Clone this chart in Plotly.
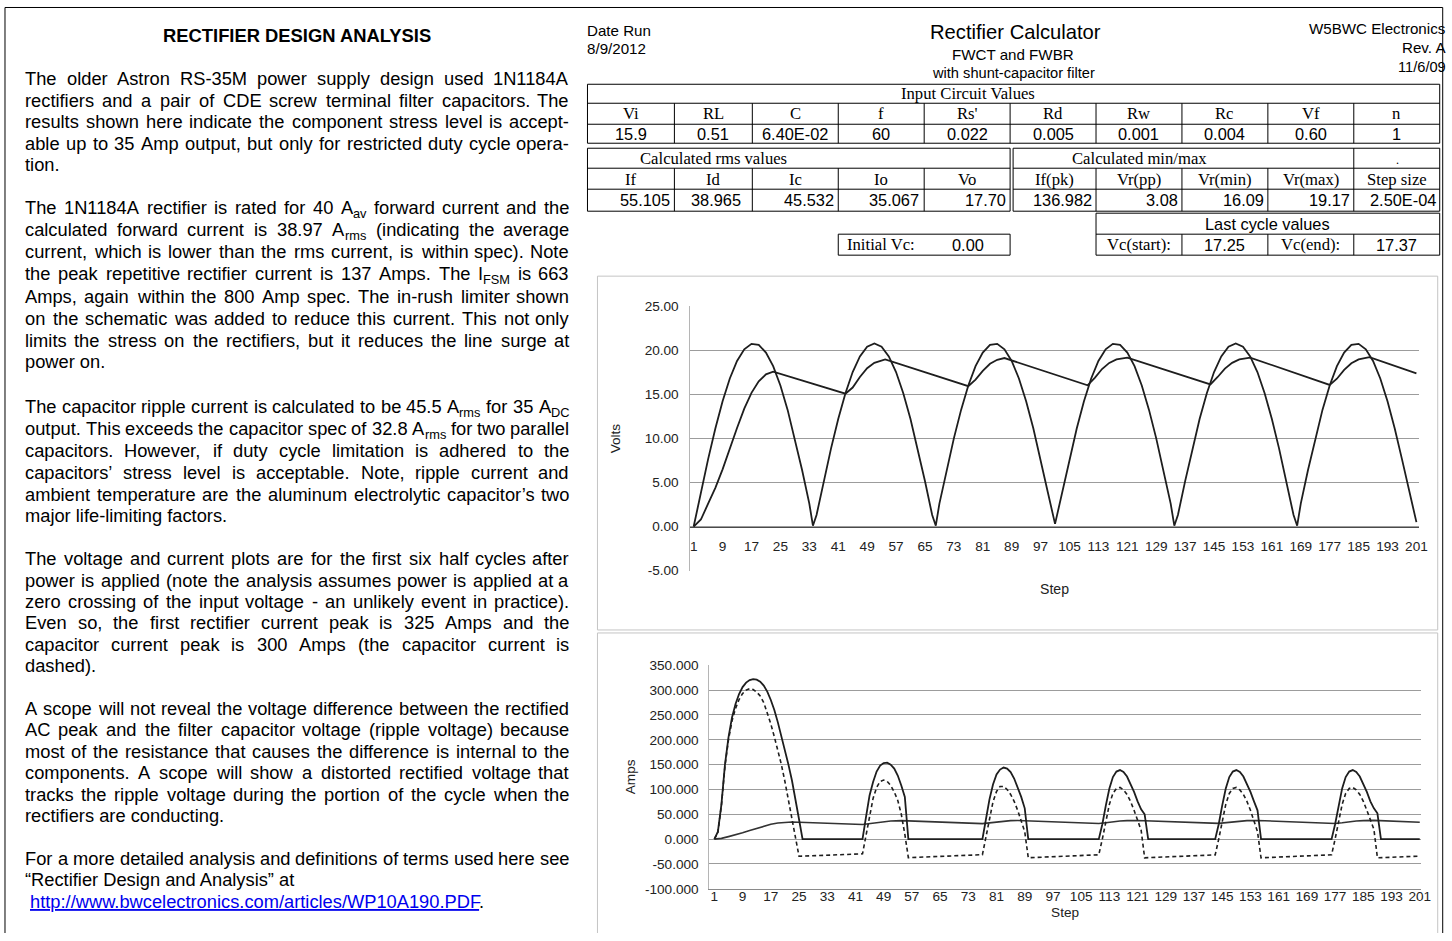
import re
import plotly.graph_objects as go

W, H = 1452, 941
SANS = "Liberation Sans, Arial, sans-serif"
SERIF = "Liberation Serif, Times New Roman, serif"
INK = "#1e1e1e"

# ---------------- chart data ----------------
step_ticks = [1, 9, 17, 25, 33, 41, 49, 57, 65, 73, 81, 89, 97, 105, 113, 121,
              129, 137, 145, 153, 161, 169, 177, 185, 193, 201]

# rectified input voltage (V)
vin_steps = [1, 3, 5, 7, 9, 11, 13, 15, 17, 19, 21, 23, 25, 27, 29, 31, 33, 34,
             35, 37, 39, 41, 43, 45, 47, 49, 51, 53, 55, 57, 59, 61, 63, 65, 67, 68,
             69, 71, 73, 75, 77, 79, 81, 83, 85, 87, 89, 91, 93, 95, 97, 99, 101,
             103, 105, 107, 109, 111, 113, 115, 117, 119, 121, 123, 125, 127, 129, 131, 133, 134,
             135, 137, 139, 141, 143, 145, 147, 149, 151, 153, 155, 157, 159, 161, 163, 165, 167, 168,
             169, 171, 173, 175, 177, 179, 181, 183, 185, 187, 189, 191, 193, 195, 197, 199, 201]
vin_volts = [0.0, 3.90, 7.66, 11.14, 14.24, 16.83, 18.82, 20.15, 20.76, 20.64, 19.78, 18.23, 16.03, 13.26, 10.02, 6.43, 2.61, 0.1,
             1.31, 5.17, 8.86, 12.23, 15.16, 17.56, 19.34, 20.43, 20.80, 20.43, 19.34, 17.56, 15.16, 12.23, 8.86, 5.17, 1.31, 0.1,
             2.61, 6.43, 10.02, 13.26, 16.03, 18.23, 19.78, 20.64, 20.76, 20.15, 18.82, 16.83, 14.24, 11.14, 7.66, 3.90, 0.3,
             3.90, 7.66, 11.14, 14.24, 16.83, 18.82, 20.15, 20.76, 20.64, 19.78, 18.23, 16.03, 13.26, 10.02, 6.43, 2.61, 0.1,
             1.31, 5.17, 8.86, 12.23, 15.16, 17.56, 19.34, 20.43, 20.80, 20.43, 19.34, 17.56, 15.16, 12.23, 8.86, 5.17, 1.31, 0.1,
             2.61, 6.43, 10.02, 13.26, 16.03, 18.23, 19.78, 20.64, 20.76, 20.15, 18.82, 16.83, 14.24, 11.14, 7.66, 3.90, 0.5]

# filter capacitor voltage (V) and load current (A)
vcap_steps = [1, 3, 5, 7, 9, 11, 13, 15, 17, 19, 21, 23,
              43, 45, 47, 49, 51, 54,
              77, 79, 81, 83, 85, 87,
              110, 112, 114, 116, 118, 121,
              144, 146, 148, 150, 152, 155,
              177, 179, 181, 183, 185, 188,
              201]
vcap_volts = [0.0, 0.8, 2.6, 4.4, 6.5, 8.9, 11.2, 13.4, 15.2, 16.5, 17.3, 17.6,
              15.1, 15.8, 17.0, 18.0, 18.6, 19.0,
              15.95, 16.7, 17.7, 18.5, 18.95, 19.15,
              16.05, 16.9, 17.9, 18.6, 19.0, 19.2,
              16.15, 17.0, 17.95, 18.6, 19.0, 19.2,
              16.1, 16.8, 17.8, 18.55, 19.0, 19.25,
              17.4]
iload_amps = [0.0, 1.6, 5.1, 8.6, 12.7, 17.5, 22.0, 26.3, 29.8, 32.4, 33.9, 34.5,
              29.6, 31.0, 33.3, 35.3, 36.5, 37.3,
              31.3, 32.7, 34.7, 36.3, 37.2, 37.5,
              31.5, 33.1, 35.1, 36.5, 37.3, 37.6,
              31.7, 33.3, 35.2, 36.5, 37.3, 37.6,
              31.6, 32.9, 34.9, 36.4, 37.3, 37.7,
              34.1]

# rectifier current (A)
irect_steps = [1, 2, 3, 4, 5, 6, 7, 8, 9, 10, 11, 12, 13, 14, 15, 16, 17, 18, 19, 20, 21, 22, 23, 24, 25, 26,
               43, 44, 45, 46, 47, 48, 49, 50, 51, 52, 53, 54, 55, 56,
               77, 78, 79, 80, 81, 82, 83, 84, 85, 86, 87, 88, 89, 90,
               110, 111, 112, 113, 114, 115, 116, 117, 118, 119, 120, 121, 122, 123, 124,
               143, 144, 145, 146, 147, 148, 149, 150, 151, 152, 153, 154, 155, 156,
               176, 177, 178, 179, 180, 181, 182, 183, 184, 185, 186, 187, 188, 189, 190,
               201]
irect_amps = [0, 15, 70, 150, 205, 245, 272, 292, 306, 315, 320, 322, 321, 317, 309, 297, 280, 260, 235, 208, 180, 150, 118, 82, 40, 0,
              0, 45, 88, 115, 136, 148, 153, 154, 150, 142, 128, 108, 85, 0,
              0, 40, 80, 110, 130, 140, 144, 142, 135, 122, 105, 85, 62, 0,
              0, 30, 68, 102, 125, 136, 139, 135, 126, 112, 95, 76, 60, 50, 0,
              0, 30, 68, 102, 125, 136, 139, 135, 126, 112, 95, 76, 58, 0,
              0, 30, 68, 102, 125, 136, 139, 135, 126, 112, 95, 76, 62, 52, 0,
              0]

# capacitor current (A), dashed
icap_steps = [1, 2, 3, 4, 5, 6, 7, 8, 9, 10, 11, 12, 13, 14, 15, 16, 17, 18, 19, 20, 21, 22, 23, 24, 25,
              43, 44, 45, 46, 47, 48, 49, 50, 51, 52, 53, 54, 55, 56,
              77, 78, 79, 80, 81, 82, 83, 84, 85, 86, 87, 88, 89, 90,
              110, 111, 112, 113, 114, 115, 116, 117, 118, 119, 120, 121, 122, 123,
              143, 144, 145, 146, 147, 148, 149, 150, 151, 152, 153, 154, 155, 156,
              176, 177, 178, 179, 180, 181, 182, 183, 184, 185, 186, 187, 188, 189,
              201]
icap_amps = [0, 14, 68, 147, 200, 238, 263, 281, 293, 300, 303, 301, 296, 288, 275, 255, 232, 206, 180, 150, 116, 80, 42, 8, -34.5,
             -29.6, 10, 50, 82, 104, 116, 119, 116, 108, 95, 78, 50, 10, -37.3,
             -31.3, 5, 45, 75, 96, 106, 106, 100, 90, 76, 58, 38, 15, -37.5,
             -31.5, 0, 38, 70, 92, 102, 104, 99, 90, 76, 58, 38, 18, -37.6,
             -31.7, 0, 38, 70, 92, 102, 104, 99, 90, 76, 58, 38, 15, -37.6,
             -31.6, 0, 38, 70, 92, 102, 104, 99, 90, 76, 58, 38, 20, -37.7,
             -34.1]

# ---------------- table data ----------------
input_headers = ["Vi", "RL", "C", "f", "Rs'", "Rd", "Rw", "Rc", "Vf", "n"]
input_values = ["15.9", "0.51", "6.40E-02", "60", "0.022", "0.005", "0.001", "0.004", "0.60", "1"]
rms_headers = ["If", "Id", "Ic", "Io", "Vo"]
rms_values = ["55.105", "38.965", "45.532", "35.067", "17.70"]
mm_headers = ["If(pk)", "Vr(pp)", "Vr(min)", "Vr(max)", "Step size"]
mm_values = ["136.982", "3.08", "16.09", "19.17", "2.50E-04"]
initial_vc = "0.00"
last_cycle = ["Vc(start):", "17.25", "Vc(end):", "17.37"]

volt_ticks = [-5, 0, 5, 10, 15, 20, 25]
volt_ticktext = ["-5.00", "0.00", "5.00", "10.00", "15.00", "20.00", "25.00"]
amp_ticks = [-100, -50, 0, 50, 100, 150, 200, 250, 300, 350]
amp_ticktext = ["-100.000", "-50.000", "0.000", "50.000", "100.000", "150.000",
                "200.000", "250.000", "300.000", "350.000"]

# ---------------- body text ----------------
paragraphs = [
    ["The older Astron RS-35M power supply design used 1N1184A",
     "rectifiers and a pair of CDE screw terminal filter capacitors. The",
     "results shown here indicate the component stress level is accept-",
     "able up to 35 Amp output, but only for restricted duty cycle opera-",
     "tion."],
    ["The 1N1184A rectifier is rated for 40 A<sub>av</sub> forward current and the",
     "calculated forward current is 38.97 A<sub>rms</sub> (indicating the average",
     "current, which is lower than the rms current, is within spec). Note",
     "the peak repetitive rectifier current is 137 Amps. The I<sub>FSM</sub> is 663",
     "Amps, again within the 800 Amp spec. The in-rush limiter shown",
     "on the schematic was added to reduce this current. This not only",
     "limits the stress on the rectifiers, but it reduces the line surge at",
     "power on."],
    ["The capacitor ripple current is calculated to be 45.5 A<sub>rms</sub> for 35 A<sub>DC</sub>",
     "output. This exceeds the capacitor spec of 32.8 A<sub>rms</sub> for two parallel",
     "capacitors. However, if duty cycle limitation is adhered to the",
     "capacitors\u2019 stress level is acceptable. Note, ripple current and",
     "ambient temperature are the aluminum electrolytic capacitor\u2019s two",
     "major life-limiting factors."],
    ["The voltage and current plots are for the first six half cycles after",
     "power is applied (note the analysis assumes power is applied at a",
     "zero crossing of the input voltage - an unlikely event in practice).",
     "Even so, the first rectifier current peak is 325 Amps and the",
     "capacitor current peak is 300 Amps (the capacitor current is",
     "dashed)."],
    ["A scope will not reveal the voltage difference between the rectified",
     "AC peak and the filter capacitor voltage (ripple voltage) because",
     "most of the resistance that causes the difference is internal to the",
     "components. A scope will show a distorted rectified voltage that",
     "tracks the ripple voltage during the portion of the cycle when the",
     "rectifiers are conducting."],
]
para_y = [[78, 100, 121, 143, 164],
          [207, 229, 251, 273, 296, 318, 340, 361],
          [406, 428, 450, 472, 494, 515],
          [558, 580, 601, 622, 644, 665],
          [708, 729, 751, 772, 794, 815]]
closing_lines = ["For a more detailed analysis and definitions of terms used here see",
                 "\u201cRectifier Design and Analysis\u201d at"]
closing_y = [858, 879, 901]
link_url = "http://www.bwcelectronics.com/articles/WP10A190.PDF"

# ---------------- geometry helpers ----------------
# the photographed page comes out slightly scaled; positions are given in
# reference pixels and mapped back to page pixels here
SX, BX = 0.994, -1.0
SY, BY = 0.9846, 6.7
FS = 1.01  # font scale


def PX(px):
    return (px - BX) / SX


def PY(py):
    return (py - BY) / SY


def X(px):
    return PX(px) / W


def Y(py):
    return 1 - PY(py) / H


annotations = []
shapes = []


def txt_page(xp, yp, s, size, family=SANS, xanchor="center", yanchor="middle",
             color="#000", angle=0):
    annotations.append(dict(x=xp / W, y=1 - yp / H, xref="paper", yref="paper", text=s,
                            showarrow=False, xanchor=xanchor, yanchor=yanchor,
                            font=dict(size=size, family=family, color=color),
                            textangle=angle, borderpad=0, borderwidth=0))


def txt(px, py, s, size, **kw):
    txt_page(PX(px), PY(py), s, size * FS, **kw)


def hline(x0, x1, py, color="#000", width=1):
    shapes.append(dict(type="line", xref="paper", yref="paper", x0=X(x0), x1=X(x1),
                       y0=Y(py), y1=Y(py), line=dict(color=color, width=width)))


def vline(px, y0, y1, color="#000", width=1, raw=False):
    ya, yb = (Y(y0), Y(y1)) if not raw else (y0, y1)
    shapes.append(dict(type="line", xref="paper", yref="paper", x0=X(px), x1=X(px),
                       y0=ya, y1=yb, line=dict(color=color, width=width)))


def box(x0, y0, x1, y1, color="#000", width=1):
    shapes.append(dict(type="rect", xref="paper", yref="paper", x0=X(x0), x1=X(x1),
                       y0=Y(y1), y1=Y(y0), line=dict(color=color, width=width),
                       fillcolor="rgba(0,0,0,0)"))


HELV = {ch: 556 for ch in "0123456789"}
HELV.update(dict(A=667, B=667, C=722, D=722, E=667, F=611, G=778, H=722, I=278, J=500,
                 K=667, L=556, M=833, N=722, O=778, P=667, Q=778, R=722, S=667, T=611,
                 U=722, V=667, W=944, X=667, Y=667, Z=611))
HELV.update(dict(a=556, b=556, c=500, d=556, e=556, f=278, g=556, h=556, i=222, j=222,
                 k=500, l=222, m=833, n=556, o=556, p=556, q=556, r=333, s=500, t=278,
                 u=556, v=500, w=722, x=500, y=500, z=500))
HELV.update({" ": 278, ".": 278, ",": 278, "-": 333, "(": 333, ")": 333, ":": 278,
             ";": 278, "/": 278, "'": 191, "\u2019": 222, "\u201c": 333, "\u201d": 333})

SUBSCALE = 0.7


def segments(word):
    """split a word into (text, is_subscript) pieces"""
    out, sub = [], False
    for part in re.split(r"(<sub>|</sub>)", word):
        if part == "<sub>":
            sub = True
        elif part == "</sub>":
            sub = False
        elif part:
            out.append((part, sub))
    return out


def plain_width(s, size):
    return sum(HELV.get(ch, 556) for ch in s) * size / 1000.0


def word_width(word, size):
    return sum(plain_width(t, size * (SUBSCALE if sb else 1.0)) for t, sb in segments(word))


BODY = 18.3
LEFT, RIGHT = PX(24), PX(569)
TOPOFF = 0.55 * BODY
SUBDY = (0.905 * (1 - SUBSCALE) + 0.2) * BODY


def place_word(word, x, ytop, anchor_right=False):
    segs = segments(word)
    if len(segs) == 1 and not segs[0][1]:
        txt_page(x, ytop, word, BODY, xanchor="right" if anchor_right else "left",
                 yanchor="top")
        return
    if anchor_right:
        x = x - word_width(word, BODY)
    for t, sb in segs:
        size = BODY * (SUBSCALE if sb else 1.0)
        txt_page(x, ytop + (SUBDY if sb else 0.0), t, size, xanchor="left", yanchor="top")
        x += plain_width(t, size)


def body_line(line, py, justify):
    ytop = PY(py) - TOPOFF
    if not justify:
        txt_page(LEFT, ytop, line, BODY, xanchor="left", yanchor="top")
        return
    words = line.split(" ")
    widths = [word_width(w, BODY) for w in words]
    gap = (RIGHT - LEFT - sum(widths)) / (len(words) - 1)
    x = LEFT
    for i, wd in enumerate(words):
        if i == len(words) - 1:
            place_word(wd, RIGHT, ytop, anchor_right=True)
        else:
            place_word(wd, x, ytop)
        x += widths[i] + gap


# ---------------- figure ----------------
fig = go.Figure()
LW = 1.8
fig.add_trace(go.Scatter(x=vin_steps, y=vin_volts, mode="lines", xaxis="x", yaxis="y",
                         line=dict(color=INK, width=LW), hoverinfo="skip"))
fig.add_trace(go.Scatter(x=vcap_steps, y=vcap_volts, mode="lines", xaxis="x", yaxis="y",
                         line=dict(color=INK, width=LW), hoverinfo="skip"))
fig.add_trace(go.Scatter(x=vcap_steps, y=iload_amps, mode="lines", xaxis="x2", yaxis="y2",
                         line=dict(color="#333", width=1.6), hoverinfo="skip"))
fig.add_trace(go.Scatter(x=icap_steps, y=icap_amps, mode="lines", xaxis="x2", yaxis="y2",
                         line=dict(color=INK, width=1.6, dash="4px,3px"), hoverinfo="skip"))
fig.add_trace(go.Scatter(x=irect_steps, y=irect_amps, mode="lines", xaxis="x2", yaxis="y2",
                         line=dict(color=INK, width=LW), hoverinfo="skip"))

# voltage plot geometry (reference px)
V_RANGE = [-5.05, 25.05]
v_dom = [Y(571), Y(306)]
zero_pos = v_dom[0] + (0 - V_RANGE[0]) / (V_RANGE[1] - V_RANGE[0]) * (v_dom[1] - v_dom[0])
C_RANGE = [-100, 350.6]

TF = 13.6
tickfont = dict(size=TF, family=SANS, color="#222")
titlefont = dict(size=TF, family=SANS, color="#222")
grid = "#9c9c9c"

fig.update_layout(
    width=W, height=H, margin=dict(l=0, r=0, t=0, b=0),
    paper_bgcolor="white", plot_bgcolor="white", showlegend=False,
    xaxis=dict(domain=[X(690), X(1419)], range=[0.09, 201.64], anchor="free",
               position=zero_pos, tickmode="array", tickvals=step_ticks,
               ticktext=[str(t) for t in step_ticks], tickangle=0, showgrid=False,
               zeroline=False, showline=True, linecolor="#4a4a4a", linewidth=1,
               ticks="outside", ticklen=7, tickcolor="rgba(0,0,0,0)", tickfont=tickfont,
               title=dict(text="Step", font=dict(size=14.1, family=SANS, color="#222"),
                          standoff=31)),
    yaxis=dict(domain=v_dom, range=V_RANGE, anchor="x", tickmode="array",
               tickvals=volt_ticks, ticktext=volt_ticktext, showgrid=True,
               gridcolor=grid, gridwidth=1, zeroline=False, showline=True,
               linecolor="#b5b5b5", linewidth=1, ticks="outside", ticklen=8,
               tickcolor="rgba(0,0,0,0)", tickfont=tickfont,
               title=dict(text="Volts", font=titlefont, standoff=20)),
    xaxis2=dict(domain=[X(709), X(1421)], range=[-0.42, 201.28], anchor="y2",
                tickmode="array", tickvals=step_ticks,
                ticktext=[str(t) for t in step_ticks], tickangle=0, showgrid=False,
                zeroline=False, showline=True, linecolor="#8a8a8a", linewidth=1,
                ticklabelstandoff=-5, tickfont=tickfont,
                title=dict(text="Step", font=titlefont, standoff=4)),
    yaxis2=dict(domain=[Y(889), Y(665)], range=C_RANGE, anchor="x2",
                tickmode="array", tickvals=amp_ticks, ticktext=amp_ticktext,
                showgrid=True, gridcolor=grid, gridwidth=1,
                zeroline=False, showline=True, linecolor="#b5b5b5", linewidth=1,
                ticks="outside", ticklen=7, tickcolor="rgba(0,0,0,0)", tickfont=tickfont,
                title=dict(text="Amps", font=titlefont, standoff=6)),
)

# page frame and chart panels
shapes.append(dict(type="line", xref="paper", yref="paper", x0=X(4), x1=X(1443),
                   y0=1 - 0.5 / H, y1=1 - 0.5 / H, line=dict(color="#000", width=1)))
vline(4, 1 - 0.5 / H, 0, raw=True)
vline(1443, 1 - 0.5 / H, 0, raw=True)
PANEL = "#c4c4c4"
box(597, 276, 1438, 630, PANEL)
hline(597, 1438, 633, PANEL)
vline(597, Y(633), 0, PANEL, raw=True)
vline(1438, Y(633), 0, PANEL, raw=True)

# ---------------- header block ----------------
txt(587, 30, "Date Run", 15, xanchor="left")
txt(587, 48, "8/9/2012", 15, xanchor="left")
txt(1015, 32, "Rectifier Calculator", 20)
txt(1013, 54, "FWCT and FWBR", 15)
txt(1013, 73, "with shunt-capacitor filter", 14.5)
txt(1446, 28, "W5BWC Electronics", 15, xanchor="right")
txt(1446, 47, "Rev. A", 15, xanchor="right")
txt(1446, 67, "11/6/09", 14.5, xanchor="right")

T1X = [587, 674, 752, 838, 924, 1010, 1096, 1182, 1268, 1354, 1440]
SER = 16.5
VAL = 16.2
# table 1: input circuit values
box(587, 84, 1440, 143)
hline(587, 1440, 103)
hline(587, 1440, 124)
for xe in T1X[1:-1]:
    vline(xe, 103, 143)
txt(968, 93.5, "Input Circuit Values", SER, family=SERIF)
for i in range(10):
    cx = (T1X[i] + T1X[i + 1]) / 2
    txt(cx, 113.5, input_headers[i], SER, family=SERIF)
    txt(cx, 134, input_values[i], VAL)

# table 2: rms and min/max
T2L = [587, 674, 752, 838, 924, 1010]
T2R = [1013, 1096, 1182, 1268, 1354, 1440]
box(587, 148, 1010, 211)
box(1013, 148, 1440, 211)
hline(587, 1010, 168)
hline(1013, 1440, 168)
hline(587, 1010, 189)
hline(1013, 1440, 189)
for xe in T2L[1:-1]:
    vline(xe, 168, 211)
for xe in T2R[1:-1]:
    vline(xe, 168, 211)
vline(1354, 148, 168)
txt(713, 158, "Calculated rms values", SER, family=SERIF)
txt(1140, 158, "Calculated min/max", SER, family=SERIF)
txt(1398, 160, ".", 12, family=SERIF)
pads_l = [4, 11, 4, 5, 4]
for i in range(5):
    cx = (T2L[i] + T2L[i + 1]) / 2
    txt(cx, 179, rms_headers[i], SER, family=SERIF)
    txt(T2L[i + 1] - pads_l[i], 200, rms_values[i], VAL, xanchor="right")
for i in range(5):
    cx = (T2R[i] + T2R[i + 1]) / 2
    txt(cx, 179, mm_headers[i], SER, family=SERIF)
    txt(T2R[i + 1] - 4, 200, mm_values[i], VAL, xanchor="right")

# last cycle values
box(1096, 213, 1440, 255)
hline(1096, 1440, 234)
for xe in [1182, 1268, 1354]:
    vline(xe, 234, 255)
txt(1268, 223.5, "Last cycle values", VAL)
LC = [1096, 1182, 1268, 1354, 1440]
for i in range(4):
    cx = (LC[i] + LC[i + 1]) / 2
    if i % 2 == 0:
        txt(cx, 244.5, last_cycle[i], SER, family=SERIF)
    else:
        txt(cx, 244.5, last_cycle[i], VAL)

# initial Vc
box(838, 234, 1010, 255)
txt(847, 244.5, "Initial Vc:", SER, family=SERIF, xanchor="left")
txt(968, 244.5, initial_vc, VAL)

# ---------------- left text column ----------------
txt(296, 35, "<b>RECTIFIER DESIGN ANALYSIS</b>", 18.2)
for para, ys in zip(paragraphs, para_y):
    for k, (line, py) in enumerate(zip(para, ys)):
        body_line(line, py, justify=(k < len(para) - 1))
body_line(closing_lines[0], closing_y[0], True)
body_line(closing_lines[1], closing_y[1], False)
txt_page(PX(29), PY(closing_y[2]) - TOPOFF,
         "<span style='color:#0000ee'><u>" + link_url + "</u></span>.", BODY,
         xanchor="left", yanchor="top")

fig.update_layout(annotations=annotations, shapes=shapes)

post = ("document.documentElement.style.margin='0';"
        "document.documentElement.style.overflow='hidden';"
        "document.body.style.margin='0';document.body.style.padding='0';"
        "document.body.style.overflow='hidden';"
        "var g=document.getElementById('{plot_id}');"
        "if(g){g.style.position='fixed';g.style.left='0px';g.style.top='0px';}")
fig.write_html("out.html", config={"displayModeBar": False}, post_script=post)
